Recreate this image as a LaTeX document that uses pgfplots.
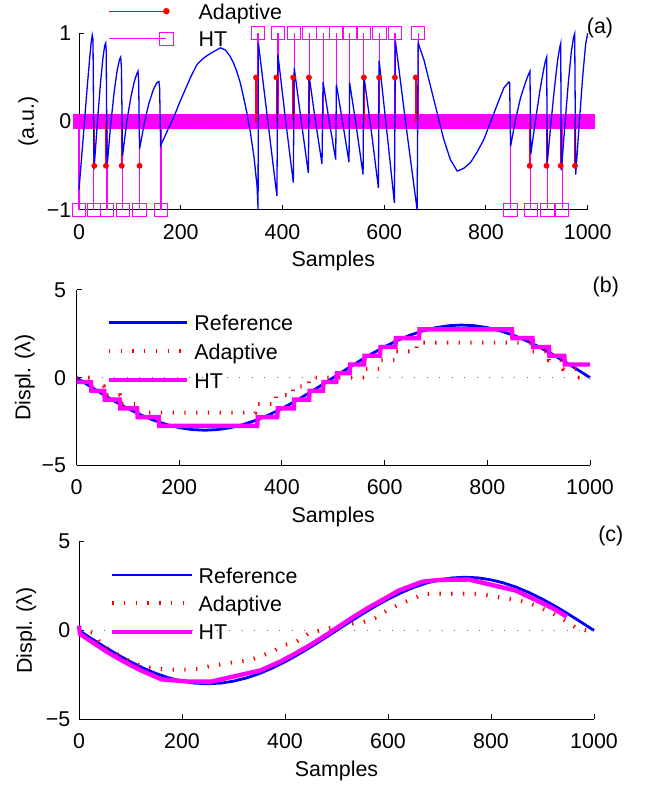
\documentclass[border=0pt]{standalone}
\usepackage{fontspec}
\setmainfont{Liberation Sans}
\usepackage{pgfplots}
\usepackage{pgfplotstable}
\pgfplotsset{compat=1.18}
\definecolor{mag}{rgb}{1,0,1}
\definecolor{zgray}{rgb}{0.4,0.4,0.4}
\newcommand\fs{\fontsize{10.7}{12.8}\selectfont}

\pgfplotstableread{
x y
0 0
25 -0.469
50 -0.927
75 -1.362
100 -1.763
125 -2.121
150 -2.427
175 -2.673
200 -2.853
225 -2.963
250 -3.000
275 -2.963
300 -2.853
325 -2.673
350 -2.427
375 -2.121
400 -1.763
425 -1.362
450 -0.927
475 -0.469
500 0
525 0.469
550 0.927
575 1.362
600 1.763
625 2.121
650 2.427
675 2.673
700 2.853
725 2.963
750 3.000
775 2.963
800 2.853
825 2.673
850 2.427
875 2.121
900 1.763
925 1.362
950 0.927
975 0.469
1000 0
}\refdata

\pgfplotsset{
  common/.style={
    scale only axis, anchor=south west,
    axis x line=bottom, axis y line=left,
    axis line style={-, black, line width=0.5pt},
    tick align=inside, major tick length=2.5pt,
    tick style={black, line width=0.5pt},
    xmin=0, xmax=1000,
    xtick={0,200,400,600,800,1000},
    xticklabels={0,200,400,600,800,1000},
    tick label style={font=\fs},
    label style={font=\fs},
    xticklabel style={anchor=base, inner sep=0pt, yshift=-14.75pt},
    xlabel={Samples},
    xlabel style={at={([yshift=-28.5pt]axis description cs:0.5,0)}, anchor=base, inner sep=0pt},
    legend style={draw=none, fill=none, inner sep=0pt, outer sep=0pt,
      column sep=0pt, anchor=north west, font=\fs,
      nodes={inner sep=0pt, text height=8.6pt, text depth=0.6pt, anchor=west}},
    clip=false,
  },
  stem legend/.style={
    legend image code/.code={%
      \draw[##1] (0pt,0pt) -- (28.7pt,0pt);%
      \draw[##1] plot coordinates {(28.7pt,0pt)};%
      \path (44.5pt,0pt);%
    }%
  },
  line legend/.style 2 args={
    legend image code/.code={%
      \draw[##1] (0pt,0pt) -- (#1,0pt);%
      \path (#2,0pt);%
    }%
  },
  zeroline/.style={zgray, line width=0.6pt, dash pattern=on 0.6pt off 5.65pt, forget plot},
}

\begin{document}
\begin{tikzpicture}
\path[use as bounding box] (0,0) rectangle (326.5pt,392.5pt);

% ---------------- panel (a)
\begin{axis}[common, at={(39.5pt,287.5pt)}, width=254.35pt, height=88.35pt,
  ymin=-1, ymax=1, ytick={-1,0,1}, yticklabels={−1,0,1},
  yticklabel style={anchor=east, inner sep=0pt, xshift=-3.65pt},
  ylabel={(a.u.)},
  ylabel style={at={([xshift=-25.35pt]axis description cs:0,0.5)}, anchor=center, inner sep=0pt},
  legend style={at={(axis description cs:0.0576,1.177)}, row sep=4.6pt}]
\addplot[mag, line width=7.5pt, forget plot] coordinates {(-12,0) (1014,0)};
% Adaptive stems
\addplot[red, line width=0.8pt, unbounded coords=jump, forget plot] coordinates {
(30,0)(30,-0.5)(nan,nan)(53,0)(53,-0.5)(nan,nan)(84,0)(84,-0.5)(nan,nan)(119,0)(119,-0.5)(nan,nan)
(348,0)(348,0.5)(nan,nan)(388,0)(388,0.5)(nan,nan)(421,0)(421,0.5)(nan,nan)(452,0)(452,0.5)(nan,nan)
(560,0)(560,0.5)(nan,nan)(590,0)(590,0.5)(nan,nan)(621,0)(621,0.5)(nan,nan)(662,0)(662,0.5)(nan,nan)
(886,0)(886,-0.5)(nan,nan)(919,0)(919,-0.5)(nan,nan)(947,0)(947,-0.5)(nan,nan)(975,0)(975,-0.5)};
% HT stems
\addplot[mag, line width=0.6pt, unbounded coords=jump, forget plot] coordinates {
(0,0)(0,-1)(nan,nan)(29,0)(29,-1)(nan,nan)(55,0)(55,-1)(nan,nan)(86,0)(86,-1)(nan,nan)(119,0)(119,-1)(nan,nan)(161,0)(161,-1)(nan,nan)
(352,0)(352,1)(nan,nan)(391,0)(391,1)(nan,nan)(423,0)(423,1)(nan,nan)(453,0)(453,1)(nan,nan)(480,0)(480,1)(nan,nan)(506,0)(506,1)(nan,nan)
(532,0)(532,1)(nan,nan)(560,0)(560,1)(nan,nan)(591,0)(591,1)(nan,nan)(621,0)(621,1)(nan,nan)(667,0)(667,1)(nan,nan)
(848,0)(848,-1)(nan,nan)(888,0)(888,-1)(nan,nan)(921,0)(921,-1)(nan,nan)(950,0)(950,-1)};
\addplot[red, only marks, mark=*, mark size=1.25pt, forget plot] coordinates {
(30,-0.5)(53,-0.5)(84,-0.5)(119,-0.5)(348,0.5)(388,0.5)(421,0.5)(452,0.5)
(560,0.5)(590,0.5)(621,0.5)(662,0.5)(886,-0.5)(919,-0.5)(947,-0.5)(975,-0.5)};
\addplot[mag, only marks, mark=square, mark size=3.33pt, mark options={line width=0.5pt}, forget plot] coordinates {
(0,-1)(29,-1)(55,-1)(86,-1)(119,-1)(161,-1)(848,-1)(888,-1)(921,-1)(950,-1)
(352,1)(391,1)(423,1)(453,1)(480,1)(506,1)(532,1)(560,1)(591,1)(621,1)(667,1)};
% signal
\addplot[blue, line width=0.65pt, forget plot] coordinates {
(0,-0.77)(8,-0.2)(16,0.38)(21,0.72)(24,0.9)(26,0.98)(27.5,0.93)(29.5,-0.54)
(36,-0.02)(42,0.42)(47,0.72)(50.5,0.86)(52.5,0.89)(53.5,0.8)(55,-0.52)
(62,-0.05)(69,0.33)(75,0.58)(79.5,0.7)(82,0.73)(83.5,0.6)(85.5,-0.39)
(94,0.0)(102,0.28)(109,0.46)(113.5,0.54)(116,0.57)(117.3,0.45)(119,-0.31)
(128,-0.03)(137,0.2)(146,0.36)(153,0.44)(157,0.455)(158.5,0.38)(160.5,-0.27)
(174,-0.1)(186,0.045)(198,0.22)(209,0.365)(220,0.51)(232,0.647)(243,0.71)(255,0.76)(267,0.80)(278,0.836)
(288,0.81)(297,0.74)(304,0.66)(310,0.57)(317,0.44)(323,0.29)(330,0.1)(337,-0.125)(344,-0.4)(350,-0.73)(352,-0.99)
(352.6,0.89)(370,0.06)(389,-0.84)
(391,0.76)(406,0.02)(421.3,-0.69)
(423,0.61)(437,0.0)(450.8,-0.58)
(452.8,0.50)(465,0.0)(477.7,-0.48)
(479.7,0.45)(492,0.0)(504.6,-0.43)
(506,0.42)(518,0.0)(530.8,-0.46)
(532,0.44)(545,-0.05)(558.4,-0.60)
(559.7,0.53)(574,-0.08)(588.6,-0.75)
(590,0.69)(605,-0.1)(620,-0.92)
(622,0.91)(643,-0.05)(664.7,-1.0)
(666.7,0.89)(678,0.70)(691,0.40)(704,0.10)(717,-0.20)(730,-0.43)(743.5,-0.56)(756,-0.53)(770,-0.46)
(782,-0.35)(796,-0.20)(806,-0.05)(816,0.10)(826,0.25)(835,0.38)(845,0.45)(846.5,0.44)(848.4,-0.28)
(858,0.02)(868,0.27)(878,0.45)(884,0.54)(886.5,0.57)(888,-0.37)
(897,0.0)(906,0.35)(913,0.58)(917,0.69)(919.3,0.73)(920.6,-0.46)
(928,0.0)(935,0.4)(941,0.7)(945,0.84)(946.9,0.885)(948.2,-0.55)
(955,-0.05)(962,0.45)(968,0.8)(972,0.95)(974.4,0.994)(976.4,-0.60)
(983,-0.05)(990,0.5)(996,0.88)(1000,1.0)};
\addplot[zeroline] coordinates {(0,0)(1000,0)};
\addlegendimage{red, line width=0.7pt, mark=*, mark size=1.25pt, stem legend}
\addlegendentry{Adaptive}
\addlegendimage{mag, line width=0.6pt, mark=square, mark size=3.33pt, mark options={line width=0.5pt}, stem legend}
\addlegendentry{HT}
\end{axis}

% ---------------- panel (b)
\begin{axis}[common, at={(38.25pt,159.85pt)}, width=256.75pt, height=87.65pt,
  ymin=-5, ymax=5, ytick={-5,0,5}, yticklabels={−5,0,5},
  yticklabel style={anchor=east, inner sep=0pt, xshift=-5pt},
  ylabel={Displ. (λ)},
  ylabel style={at={([xshift=-25.85pt]axis description cs:0,0.5)}, anchor=center, inner sep=0pt},
  legend style={at={(axis description cs:0.0588,0.866)}, row sep=5.13pt},
  line legend={39.15pt}{41.65pt}]
\addplot[blue, line width=1.4pt] table[x=x,y=y] {\refdata};
\addlegendentry{Reference}
\addplot[red, line width=2pt, dash pattern=on 0.67pt off 5.2pt] coordinates {
(0,0)(30,0)(31,-0.5)(53,-0.5)(54,-1)(84,-1)(85,-1.5)(119,-1.5)(120,-2)(348,-2)(349,-1.5)(388,-1.5)(389,-1)
(421,-1)(422,-0.5)(452,-0.5)(453,0)(560,0)(561,0.5)(590,0.5)(591,1)(621,1)(622,1.5)(662,1.5)(663,2)
(886,2)(887,1.5)(919,1.5)(920,1)(947,1)(948,0.5)(975,0.5)(976,0)(1000,0)};
\addlegendentry{Adaptive}
\addplot[mag, line width=2.2pt] coordinates {
(0,-0.25)(28,-0.25)(29,-0.75)(54,-0.75)(55,-1.25)(84,-1.25)(85,-1.75)(118,-1.75)(119,-2.25)(160,-2.25)(161,-2.75)
(352,-2.75)(353,-2.25)(391,-2.25)(392,-1.75)(423,-1.75)(424,-1.25)(453,-1.25)(454,-0.75)(480,-0.75)(481,-0.25)
(506,-0.25)(507,0.25)(532,0.25)(533,0.75)(560,0.75)(561,1.25)(591,1.25)(592,1.75)(621,1.75)(622,2.25)(667,2.25)(668,2.75)
(848,2.75)(849,2.25)(888,2.25)(889,1.75)(920,1.75)(921,1.25)(950,1.25)(951,0.75)(1000,0.75)};
\addlegendentry{HT}
\addplot[zeroline] coordinates {(0,0)(1000,0)};
\end{axis}

% ---------------- panel (c)
\begin{axis}[common, at={(39.5pt,32.85pt)}, width=257.5pt, height=88.8pt,
  ymin=-5, ymax=5, ytick={-5,0,5}, yticklabels={−5,0,5},
  yticklabel style={anchor=east, inner sep=0pt, xshift=-4.15pt},
  ylabel={Displ. (λ)},
  ylabel style={at={([xshift=-26.3pt]axis description cs:0,0.5)}, anchor=center, inner sep=0pt},
  legend style={at={(axis description cs:0.0602,0.864)}, row sep=4.98pt},
  line legend={40pt}{42.15pt}]
\addplot[blue, line width=1.4pt] table[x=x,y=y] {\refdata};
\addlegendentry{Reference}
\addplot[red, line width=2pt, dash pattern=on 0.67pt off 5.2pt] coordinates {
(0,0)(28,-0.13)(41,-0.7)(60,-1.1)(83,-1.46)(105,-1.84)(131,-2.06)(157,-2.16)(180,-2.2)(206,-2.2)(232,-2.16)
(254,-2.01)(280,-1.88)(303,-1.78)(332,-1.67)(355,-1.41)(374,-1.22)(397,-0.84)(423,-0.62)(448,-0.12)(468,0.0)
(494,0.19)(530,0.38)(552,0.47)(575,0.71)(598,1.13)(627,1.54)(648,1.78)(669,2.06)(695,2.07)(727,2.07)(753,2.08)
(775,2.06)(801,1.95)(824,1.82)(849,1.72)(871,1.58)(895,1.3)(921,0.94)(944,0.56)(963,0.19)(985,0.0)(1000,0.0)};
\addlegendentry{Adaptive}
\addplot[mag, line width=2.2pt] coordinates {
(0,0.28)(2,-0.2)(28,-0.7)(54,-1.2)(84,-1.7)(118,-2.22)(160,-2.75)(210,-2.87)(256,-2.88)(352,-2.25)
(391,-1.75)(423,-1.25)(453,-0.75)(480,-0.25)(506,0.25)(532,0.75)(560,1.25)(591,1.75)(621,2.25)(667,2.75)
(702,2.85)(757,2.87)(848,2.25)(888,1.7)(920,1.25)(947,0.78)};
\addlegendentry{HT}
\addplot[zeroline] coordinates {(0,0)(1000,0)};
\end{axis}

\node[font=\fs, inner sep=0pt, anchor=center] at (300pt,378.75pt) {(a)};
\node[font=\fs, inner sep=0pt, anchor=center] at (302.9pt,249pt) {(b)};
\node[font=\fs, inner sep=0pt, anchor=center] at (305.4pt,124.6pt) {(c)};
\end{tikzpicture}
\end{document}
